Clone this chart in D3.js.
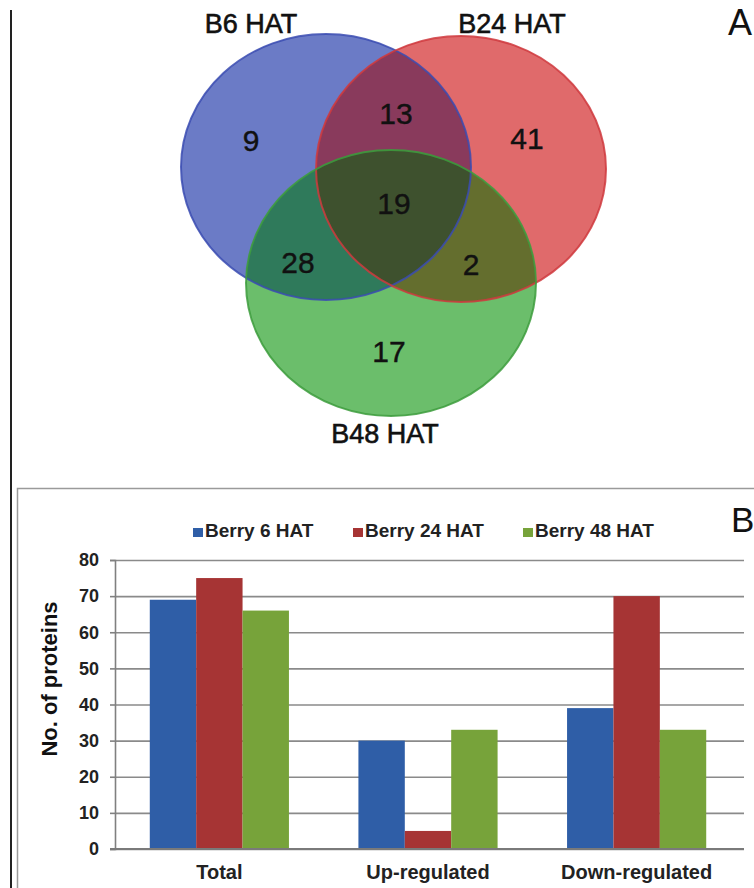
<!DOCTYPE html>
<html>
<head>
<meta charset="utf-8">
<script src="https://cdn.jsdelivr.net/npm/d3@7"></script>
<style>
  html, body { margin: 0; padding: 0; background: #fff; }
  svg { display: block; font-family: "Liberation Sans", Arial, sans-serif; }
</style>
</head>
<body>
<svg id="fig" width="754" height="888"></svg>
<script>
// ---- Panel A: Venn diagram of proteins per time point ----
const setNames = ["B6 HAT", "B24 HAT", "B48 HAT"];
const regionNames = ["B6 only", "B24 only", "B48 only", "B6 & B24", "B6 & B48", "B24 & B48", "B6 & B24 & B48"];
const regionCounts = [9, 41, 17, 13, 28, 2, 19];

// ---- Panel B: grouped bar chart ----
const categories = ["Total", "Up-regulated", "Down-regulated"];
const seriesNames = ["Berry 6 HAT", "Berry 24 HAT", "Berry 48 HAT"];
const berry6 = [69, 30, 39];
const berry24 = [75, 5, 70];
const berry48 = [66, 33, 33];
const yTicks = [0, 10, 20, 30, 40, 50, 60, 70, 80];

const svg = d3.select("#fig");
svg.append("rect").attr("width", 754).attr("height", 888).attr("fill", "#fff");

// panel frame lines
svg.append("line").attr("x1", 11).attr("x2", 11).attr("y1", 10).attr("y2", 888)
  .attr("stroke", "#222").attr("stroke-width", 2);
svg.append("rect").attr("x", 17.5).attr("y", 488.5).attr("width", 800).attr("height", 500)
  .attr("fill", "none").attr("stroke", "#9a9a9a").attr("stroke-width", 1.5);

// ===== Venn =====
const rx = 145, ry = 133;
const circles = [
  { cx: 326, cy: 167, stroke: "#3b4cb2" },
  { cx: 461, cy: 169, stroke: "#cf3a3e" },
  { cx: 391, cy: 283, stroke: "#3d9c3d" }
];
const regionFill = {
  b: "#6b7bc6", r: "#e06a6b", g: "#6bbe6b",
  br: "#893a5c", bg: "#2f7a5b", rg: "#646e2e", brg: "#3e512e"
};
const defs = svg.append("defs");
circles.forEach((c, i) => {
  defs.append("clipPath").attr("id", "clip" + i)
    .append("ellipse").attr("cx", c.cx).attr("cy", c.cy).attr("rx", rx).attr("ry", ry);
});
const venn = svg.append("g");
function ell(g, i, fill) {
  return g.append("ellipse").attr("cx", circles[i].cx).attr("cy", circles[i].cy)
    .attr("rx", rx).attr("ry", ry).attr("fill", fill);
}
ell(venn, 0, regionFill.b);
ell(venn, 1, regionFill.r);
ell(venn, 2, regionFill.g);
const inBlue = venn.append("g").attr("clip-path", "url(#clip0)");
ell(inBlue, 1, regionFill.br);
ell(inBlue, 2, regionFill.bg);
const inRed = venn.append("g").attr("clip-path", "url(#clip1)");
ell(inRed, 2, regionFill.rg);
const inBoth = venn.append("g").attr("clip-path", "url(#clip0)")
  .append("g").attr("clip-path", "url(#clip1)");
ell(inBoth, 2, regionFill.brg);
circles.forEach((c, i) => {
  venn.append("ellipse").attr("cx", c.cx).attr("cy", c.cy).attr("rx", rx).attr("ry", ry)
    .attr("fill", "none").attr("stroke", c.stroke).attr("stroke-width", 2).attr("stroke-opacity", 0.85);
});

// region count labels, placed inside each region
const regionAnchor = [[251, 140], [527, 138], [389, 351], [396, 113], [298, 262], [471, 264], [394, 203]];
venn.selectAll("text.count").data(regionCounts).join("text")
  .attr("class", "count")
  .attr("x", (d, i) => regionAnchor[i][0])
  .attr("y", (d, i) => regionAnchor[i][1])
  .attr("dy", "0.36em")
  .attr("text-anchor", "middle")
  .attr("font-size", 30)
  .attr("fill", "#111").attr("stroke", "#111").attr("stroke-width", 0.4)
  .text(d => d);

// set names
const setAnchor = [[251, 33], [512, 33], [385, 443]];
venn.selectAll("text.set").data(setNames).join("text")
  .attr("class", "set")
  .attr("x", (d, i) => setAnchor[i][0])
  .attr("y", (d, i) => setAnchor[i][1])
  .attr("text-anchor", "middle")
  .attr("font-size", 27)
  .attr("fill", "#111").attr("stroke", "#111").attr("stroke-width", 0.6)
  .text(d => d);

svg.append("text").attr("x", 728).attr("y", 35).attr("font-size", 36).attr("fill", "#111").text("A");
svg.append("text").attr("x", 731).attr("y", 532).attr("font-size", 35).attr("fill", "#111").text("B");

// ===== Bar chart =====
const plot = { left: 115, right: 741, top: 560, bottom: 849 };
const seriesValues = [berry6, berry24, berry48];
const seriesColors = ["#2f5ea7", "#a63434", "#77a33a"];

const x0 = d3.scaleBand().domain(categories).range([plot.left, plot.right])
  .paddingInner(0.333).paddingOuter(0.1667);
const x1 = d3.scaleBand().domain(seriesNames).range([0, x0.bandwidth()]);
const y = d3.scaleLinear().domain([0, 80]).range([plot.bottom, plot.top]);

// gridlines
svg.append("g").attr("transform", `translate(${plot.left},0)`)
  .call(d3.axisLeft(y).tickValues(yTicks).tickSize(-(plot.right - plot.left + 3)).tickFormat(""))
  .call(g => g.select(".domain").remove())
  .call(g => g.selectAll("line").attr("stroke", "#8a8a8a").attr("stroke-width", 1.6));

// bars
const barG = svg.append("g");
seriesValues.forEach((vals, s) => {
  barG.append("g").selectAll("rect").data(vals).join("rect")
    .attr("x", (d, i) => x0(categories[i]) + x1(seriesNames[s]))
    .attr("y", d => y(d))
    .attr("width", x1.bandwidth())
    .attr("height", d => y(0) - y(d))
    .attr("fill", seriesColors[s]);
});

// y axis
const yAxis = svg.append("g").attr("transform", `translate(${plot.left},0)`)
  .call(d3.axisLeft(y).tickValues(yTicks).tickSize(5).tickPadding(11));
yAxis.select(".domain").attr("stroke", "#808080").attr("stroke-width", 1.6);
yAxis.selectAll("line").attr("stroke", "#808080").attr("stroke-width", 1.6);
yAxis.selectAll("text").attr("font-size", 18).attr("font-weight", "bold")
  .attr("font-family", "Liberation Sans, Arial, sans-serif").attr("fill", "#222");

// baseline
svg.append("line").attr("x1", plot.left - 5).attr("x2", plot.right + 3)
  .attr("y1", y(0)).attr("y2", y(0)).attr("stroke", "#7a7a7a").attr("stroke-width", 2);

// x category labels
svg.append("g").selectAll("text").data(categories).join("text")
  .attr("x", d => x0(d) + x0.bandwidth() / 2)
  .attr("y", 879)
  .attr("text-anchor", "middle")
  .attr("font-size", 20).attr("font-weight", "bold").attr("fill", "#222")
  .text(d => d);

// y axis title
svg.append("text")
  .attr("transform", "translate(57,679) rotate(-90)")
  .attr("text-anchor", "middle")
  .attr("font-size", 22).attr("font-weight", "bold").attr("fill", "#111")
  .text("No. of proteins");

// legend
const legendX = [193, 353, 523];
const legend = svg.append("g").selectAll("g").data(seriesNames).join("g")
  .attr("transform", (d, i) => `translate(${legendX[i]},537)`);
legend.append("rect").attr("x", 0).attr("y", -9).attr("width", 10).attr("height", 9)
  .attr("fill", (d, i) => seriesColors[i]);
legend.append("text").attr("x", 12).attr("y", 0)
  .attr("font-size", 19).attr("font-weight", "bold").attr("fill", "#222")
  .text(d => d);
</script>
</body>
</html>
